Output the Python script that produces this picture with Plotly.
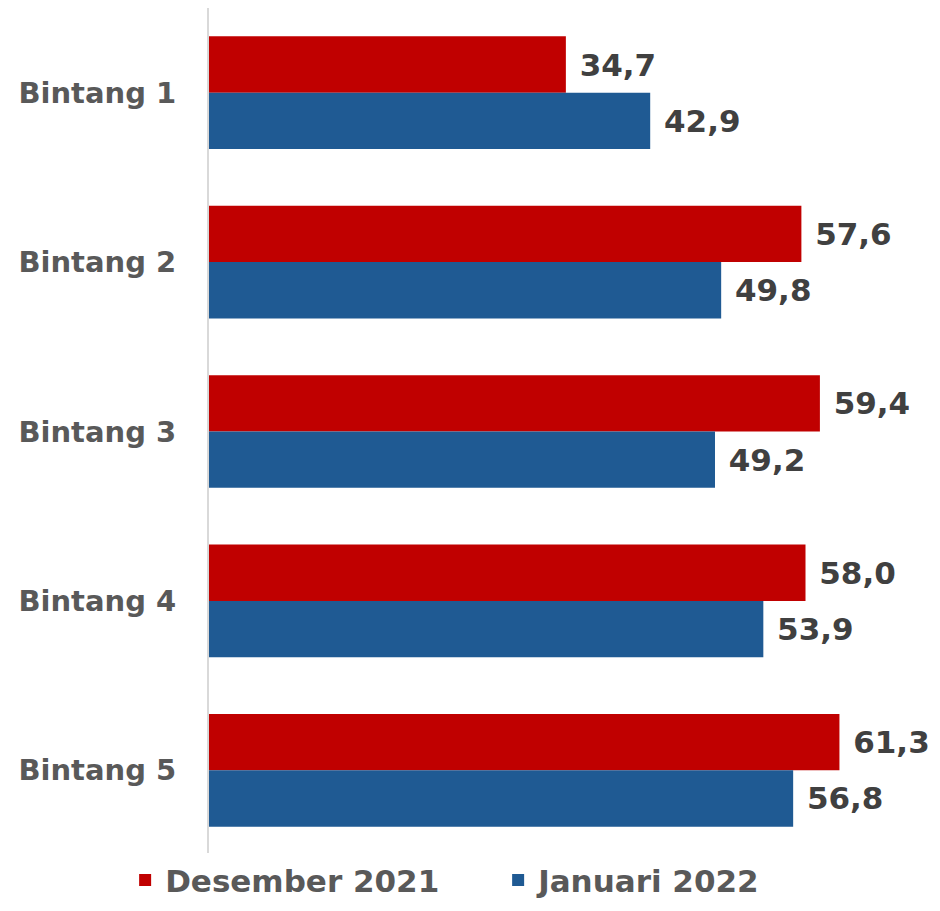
import plotly.graph_objects as go

# categories and series values
categories = ['Bintang 1', 'Bintang 2', 'Bintang 3', 'Bintang 4', 'Bintang 5']
desember_2021 = [34.7, 57.6, 59.4, 58.0, 61.3]
januari_2022 = [42.9, 49.8, 49.2, 53.9, 56.8]

series_names = ['Desember 2021', 'Januari 2022']
series_colors = ['#C00000', '#1F5A93']

font_family = 'DejaVu Sans'

fig = go.Figure()

for name, values, color in zip(series_names, [desember_2021, januari_2022], series_colors):
    fig.add_trace(go.Bar(
        y=categories, x=values, name=name, orientation='h',
        marker=dict(color=color, line=dict(width=0)),
        texttemplate='\u00a0%{x:.1f}', textposition='outside',
        textfont=dict(family=font_family, size=31, color='#404040', weight='bold'),
        constraintext='none', cliponaxis=False,
        hoverinfo='x+y',
    ))

# the page adds an 8px body margin, so the figure is a bit smaller than the window
fig.update_layout(
    width=924, height=895,
    margin=dict(l=201, r=0, t=0, b=48, autoexpand=False),
    paper_bgcolor='white', plot_bgcolor='white',
    barmode='group', bargap=0.335, bargroupgap=0,
    separators=',.',
    font=dict(family=font_family, color='#595959'),
    showlegend=True,
    legend=dict(
        orientation='h', traceorder='normal',
        x=-0.116, xanchor='left',
        y=-0.03, yanchor='middle',
        font=dict(family=font_family, size=31, color='#595959', weight='bold'),
        itemwidth=30, entrywidth=328,
    ),
    xaxis=dict(range=[0, 70.3], showgrid=False, zeroline=False, automargin=False,
               showticklabels=False, showline=False, fixedrange=True),
    yaxis=dict(autorange='reversed', showgrid=False, zeroline=False, automargin=False,
               showline=True, linecolor='#D9D9D9', linewidth=2,
               ticks='', ticklabelstandoff=25,
               tickfont=dict(family=font_family, size=29, color='#595959', weight='bold')),
)

fig.write_html('out.html')
